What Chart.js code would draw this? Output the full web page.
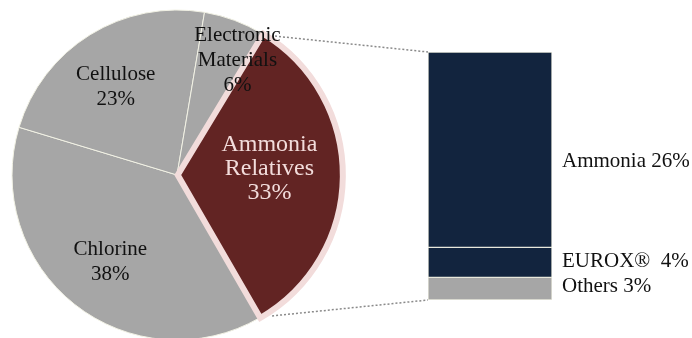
<!DOCTYPE html>
<html>
<head>
<meta charset="utf-8">
<script src="https://cdn.jsdelivr.net/npm/chart.js@4.4.1/dist/chart.umd.min.js"></script>
<style>
  html, body { margin: 0; padding: 0; background: #fff; }
  #wrap { position: relative; width: 692px; height: 338px; overflow: hidden; }
  #pieBox { position: absolute; left: -3px; top: -5px; width: 360px; height: 360px; }
  #barBox { position: absolute; left: 400px; top: 0; width: 292px; height: 338px; }
  #links { position: absolute; left: 0; top: 0; pointer-events: none; }
</style>
</head>
<body>
<div id="wrap">
  <div id="pieBox"><canvas id="pie" width="360" height="360"></canvas></div>
  <div id="barBox"><canvas id="bar" width="292" height="338"></canvas></div>
  <canvas id="links" width="692" height="338"></canvas>
</div>
<script>
// pie: segments by business
const pieLabels = [['Chlorine', '38%'], ['Cellulose', '23%'], ['Electronic', 'Materials', '6%'], ['Ammonia', 'Relatives', '33%']];
const pieValues = [38, 23, 6, 33];

// breakdown of Ammonia Relatives (bottom to top)
const barLabels = ['Others 3%', 'EUROX\u00AE  4%', 'Ammonia 26%'];
const barValues = [3, 4, 26];

const SERIF = '"Liberation Serif", "Times New Roman", serif';
const GRAY = '#a6a6a6';
const WINE = '#622423';
const NAVY = '#12243e';
const PINK = '#f2dcdb';

// label placement inside the pie (fraction of radius + pixel nudge)
const pieLabelRadius = [0.67, 0.67, 0.79, 0.56];
const pieLabelNudge = [[2, 0], [-3, 6], [15, 8], [0, -7]];

const pieText = {
  id: 'pieText',
  afterDatasetsDraw(chart) {
    const ctx = chart.ctx;
    chart.getDatasetMeta(0).data.forEach((arc, i) => {
      const a = (arc.startAngle + arc.endAngle) / 2;
      const r = arc.outerRadius * pieLabelRadius[i];
      const cx = chart.chartArea.left + chart.chartArea.width / 2 + Math.cos(a) * r + pieLabelNudge[i][0];
      const cy = chart.chartArea.top + chart.chartArea.height / 2 + Math.sin(a) * r + pieLabelNudge[i][1];
      const last = i === pieValues.length - 1;
      const size = last ? 24 : 21;
      const lh = last ? 24 : 25;
      const lines = pieLabels[i];
      ctx.save();
      ctx.font = size + 'px ' + SERIF;
      ctx.fillStyle = last ? PINK : '#111';
      ctx.textAlign = 'center';
      ctx.textBaseline = 'middle';
      lines.forEach((t, k) => {
        ctx.fillText(t, cx, cy + (k - (lines.length - 1) / 2) * lh);
      });
      ctx.restore();
    });
  }
};

const pieChart = new Chart(document.getElementById('pie'), {
  type: 'pie',
  data: {
    labels: pieLabels.map(l => l.join(' ')),
    datasets: [{
      data: pieValues,
      backgroundColor: [GRAY, GRAY, GRAY, WINE],
      borderColor: ['#f1f1e4', '#f1f1e4', '#f1f1e4', PINK],
      borderWidth: [1, 1, 1, 6],
      borderJoinStyle: 'miter',
      offset: [0, 0, 0, 3],
      radius: 165
    }]
  },
  options: {
    responsive: false,
    animation: false,
    devicePixelRatio: 1,
    rotation: 150,
    layout: { padding: 0 },
    plugins: { legend: { display: false }, tooltip: { enabled: false } }
  },
  plugins: [pieText]
});

// small vertical nudges for the side labels
const barLabelShift = [-2, -1, 12];

const barText = {
  id: 'barText',
  afterDatasetsDraw(chart) {
    const ctx = chart.ctx;
    ctx.save();
    ctx.font = '21px ' + SERIF;
    ctx.fillStyle = '#111';
    ctx.textAlign = 'left';
    ctx.textBaseline = 'middle';
    chart.data.datasets.forEach((ds, i) => {
      const el = chart.getDatasetMeta(i).data[0];
      const right = el.x + el.width / 2;
      const mid = (el.y + el.base) / 2;
      ctx.fillText(barLabels[i], right + 10, mid + barLabelShift[i]);
    });
    ctx.restore();
  }
};

const barChart = new Chart(document.getElementById('bar'), {
  type: 'bar',
  data: {
    labels: ['Ammonia Relatives'],
    datasets: barValues.map((v, i) => ({
      label: barLabels[i],
      data: [v],
      backgroundColor: i === 0 ? GRAY : NAVY,
      borderColor: '#e8e8dc',
      borderWidth: 1,
      borderSkipped: false,
      barPercentage: 1,
      categoryPercentage: 1
    }))
  },
  options: {
    responsive: false,
    animation: false,
    devicePixelRatio: 1,
    layout: { padding: { top: 52, bottom: 38, left: 28, right: 140 } },
    scales: {
      x: { stacked: true, display: false },
      y: { stacked: true, display: false, min: 0, max: 33 }
    },
    plugins: { legend: { display: false }, tooltip: { enabled: false } }
  },
  plugins: [barText]
});

// dotted connectors from the wine slice to the bar
(function drawLinks() {
  const arc = pieChart.getDatasetMeta(0).data[pieValues.length - 1];
  const top = barChart.getDatasetMeta(barValues.length - 1).data[0];
  const bottom = barChart.getDatasetMeta(0).data[0];
  const pieOff = { x: -3, y: -5 };
  const barOff = { x: 400, y: 0 };
  const R = arc.outerRadius + 5;
  const a1 = arc.startAngle + 0.07;
  const a2 = arc.endAngle - 0.07;
  const p1 = { x: pieOff.x + arc.x + Math.cos(a1) * R, y: pieOff.y + arc.y + Math.sin(a1) * R };
  const p2 = { x: pieOff.x + arc.x + Math.cos(a2) * R, y: pieOff.y + arc.y + Math.sin(a2) * R };
  const left = barOff.x + top.x - top.width / 2;
  const ctx = document.getElementById('links').getContext('2d');
  ctx.strokeStyle = '#8a8a8a';
  ctx.lineWidth = 1.5;
  ctx.setLineDash([2, 2]);
  ctx.beginPath();
  ctx.moveTo(p1.x, p1.y);
  ctx.lineTo(left, barOff.y + top.y);
  ctx.moveTo(p2.x, p2.y);
  ctx.lineTo(left, barOff.y + bottom.base);
  ctx.stroke();
})();
</script>
</body>
</html>
